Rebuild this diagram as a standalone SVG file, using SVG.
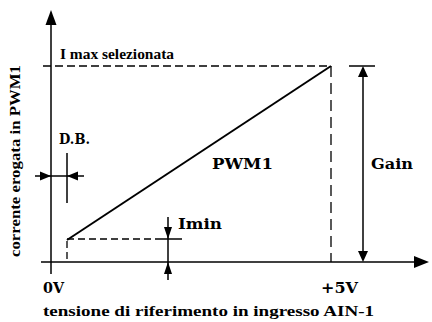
<svg xmlns="http://www.w3.org/2000/svg" width="432" height="322" viewBox="0 0 432 322">
<style>
.ln{stroke:#000;stroke-width:1.5;fill:none}
.thick{stroke:#000;stroke-width:2;fill:none}
.dl{stroke:#000;stroke-width:1.3;fill:none;stroke-dasharray:8,4}
.ds{stroke:#000;stroke-width:1.3;fill:none;stroke-dasharray:7,4}
.dv{stroke:#000;stroke-width:1.3;fill:none;stroke-dasharray:11,6}
.ah{fill:#000;stroke:none}
</style>
<rect width="432" height="322" fill="#fff"/>
<g id="connectors">
  <line class="ln" x1="51" y1="22" x2="51" y2="274"/>
  <polygon class="ah" points="51,10 45.5,25 56.5,25"/>
  <line class="ln" x1="41" y1="262" x2="417" y2="262"/>
  <polygon class="ah" points="429,262 414,256 414,268"/>
  <line class="dl" x1="43" y1="66" x2="331" y2="66"/>
  <line class="dv" x1="331" y1="66" x2="331" y2="262"/>
  <line class="thick" x1="67" y1="240" x2="331" y2="66"/>
  <line class="ds" x1="67" y1="239" x2="155" y2="239"/>
  <line class="ln" x1="155" y1="239" x2="182" y2="239"/>
  <line class="ds" x1="67" y1="241" x2="67" y2="262"/>
  <line class="ln" x1="168" y1="217" x2="168" y2="280"/>
  <polygon class="ah" points="168,239 164,227 172,227"/>
  <polygon class="ah" points="168,262 164,274 172,274"/>
  <line class="ln" x1="67" y1="153" x2="67" y2="203"/>
  <line class="ln" x1="35" y1="176" x2="84" y2="176"/>
  <polygon class="ah" points="51,176 40,171.5 40,180.5"/>
  <polygon class="ah" points="67,176 78,171.5 78,180.5"/>
  <line class="ln" x1="349" y1="66" x2="375" y2="66"/>
  <line class="ln" x1="363" y1="70" x2="363" y2="258"/>
  <polygon class="ah" points="363,66 358,77 368,77"/>
  <polygon class="ah" points="363,262 358,251 368,251"/>
</g>
<g id="labels" font-family="Liberation Serif, Times New Roman, serif" font-weight="bold" fill="#000">
  <text x="60" y="59" font-size="14.5" textLength="114" lengthAdjust="spacingAndGlyphs">I max selezionata</text>
  <text font-size="14.5" transform="translate(20,257) rotate(-90)" textLength="192" lengthAdjust="spacingAndGlyphs">corrente erogata in  PWM1</text>
  <text x="43" y="316" font-size="15.5" textLength="331" lengthAdjust="spacingAndGlyphs">tensione di riferimento in ingresso AIN-1</text>
  <g font-family="DejaVu Serif, Liberation Serif, serif" font-size="14">
    <text x="59" y="144" textLength="31" lengthAdjust="spacingAndGlyphs">D.B.</text>
    <text x="212" y="169" textLength="61" lengthAdjust="spacingAndGlyphs">PWM1</text>
    <text x="371" y="169" textLength="42" lengthAdjust="spacingAndGlyphs">Gain</text>
    <text x="178" y="229" textLength="44" lengthAdjust="spacingAndGlyphs">Imin</text>
    <text x="43" y="293" textLength="21" lengthAdjust="spacingAndGlyphs">0V</text>
    <text x="321" y="293" textLength="37" lengthAdjust="spacingAndGlyphs">+5V</text>
  </g>
</g>
</svg>
